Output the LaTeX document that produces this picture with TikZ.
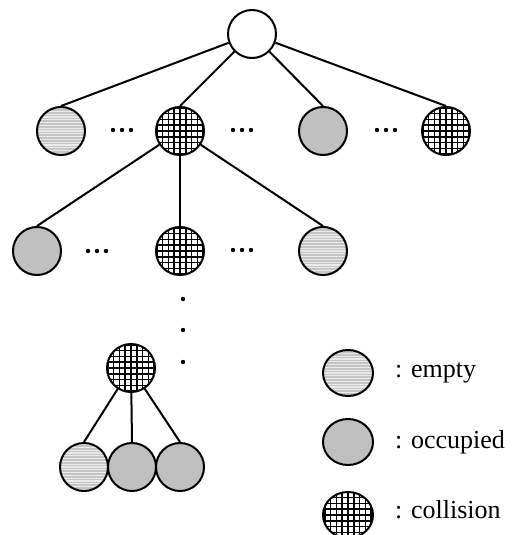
\documentclass[tikz,border=0pt]{standalone}
\usepackage{fontspec}
\setmainfont{Liberation Serif}
\usetikzlibrary{shapes.geometric}
\definecolor{stripegray}{HTML}{C4C4C4}
\definecolor{occgray}{HTML}{C0C0C0}
\tikzset{
  base/.style={draw, line width=2pt, inner sep=0pt},
  node circ/.style={base, circle, minimum size=48pt},
  leg circ/.style={base, ellipse, minimum width=50pt, minimum height=46pt},
  stripes/.style={fill=stripegray, path picture={
      \foreach \k in {-10,...,10}{
        \draw[white!92!black, line width=1.3pt] ([shift={(-30pt,\k*2.8pt)}]path picture bounding box.center) -- ++(60pt,0pt);}}},
  grid/.style={fill=white, path picture={
      \foreach \k in {-4,...,4}{
        \draw[black, line width=1.6pt] ([shift={(\k*5.8pt,-30pt)}]path picture bounding box.center) -- ++(0pt,60pt);
        \draw[black, line width=1.6pt] ([shift={(-30pt,\k*5.8pt)}]path picture bounding box.center) -- ++(60pt,0pt);}}},
  emptyn/.style={node circ, stripes},
  occn/.style={node circ, fill=occgray},
  colln/.style={node circ, grid},
  rootn/.style={node circ, fill=white},
  dotn/.style={circle, fill=black, inner sep=0pt, minimum size=4.4pt},
  edge/.style={line width=2pt},
  legtext/.style={anchor=base west, inner sep=0pt, font=\fontsize{26}{30}\selectfont},
}
\begin{document}
\begin{tikzpicture}[x=1pt,y=-1pt]
\useasboundingbox (0,0) rectangle (512,535);
% nodes
\node[rootn] (r) at (252,34) {};
\node[emptyn] (a1) at (61,131) {};
\node[colln] (a2) at (180,131) {};
\node[occn] (a3) at (323,131) {};
\node[colln] (a4) at (446,131) {};
\node[occn] (b1) at (37,251) {};
\node[colln] (b2) at (180,251) {};
\node[emptyn] (b3) at (323,251) {};
\node[colln] (c1) at (131,368) {};
\node[emptyn] (e1) at (84,467) {};
\node[occn] (e2) at (132,467) {};
\node[occn] (e3) at (180,467) {};
% dots
\foreach \n/\x/\y in {p1/122/130, p2/242/130, p3/386/130, q1/97/251, q2/242/250}{
  \node[dotn] (\n a) at (\x-9,\y) {};
  \node[dotn] (\n b) at (\x,\y) {};
  \node[dotn] (\n c) at (\x+9,\y) {};
}
\node[dotn] (v1) at (183,299) {};
\node[dotn] (v2) at (183,330) {};
\node[dotn] (v3) at (183,362) {};
% edges
\foreach \c in {a1,a2,a3,a4} \draw[edge] (r) -- (\c.north);
\foreach \c in {b1,b2,b3} \draw[edge] (a2) -- (\c.north);
\foreach \c in {e1,e2,e3} \draw[edge] (c1) -- (\c.north);
% legend
\node[leg circ, stripes] (l1) at (348,373) {};
\node[leg circ, fill=occgray] (l2) at (348,442) {};
\node[leg circ, grid] (l3) at (348,515) {};
\node[legtext] (t1) at (395,377) {: empty};
\node[legtext] (t2) at (395,448) {: occupied};
\node[legtext] (t3) at (395,518) {: collision};
\end{tikzpicture}
\end{document}
